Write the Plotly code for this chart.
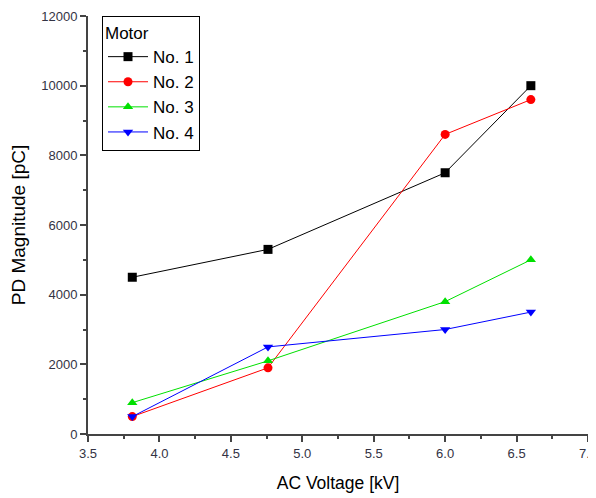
import plotly.graph_objects as go

voltage = [3.81, 4.76, 6.0, 6.6]
no1 = [4500, 5300, 7500, 10000]
no2 = [500, 1900, 8600, 9600]
no3 = [900, 2100, 3800, 5000]
no4 = [500, 2500, 3000, 3500]
names = ["No. 1", "No. 2", "No. 3", "No. 4"]
colors = ["#000000", "#ff0000", "#00e000", "#0000ff"]
symbols = ["square", "circle", "triangle-up", "triangle-down"]
x_ticks = [3.5, 4.0, 4.5, 5.0, 5.5, 6.0, 6.5, 7.0]
x_ticktext = ["3.5", "4.0", "4.5", "5.0", "5.5", "6.0", "6.5", "7.0"]
y_ticks = [0, 2000, 4000, 6000, 8000, 10000, 12000]
y_ticktext = ["0", "2000", "4000", "6000", "8000", "10000", "12000"]

fig = go.Figure()
for name, ys, c, s in zip(names, [no1, no2, no3, no4], colors, symbols):
    fig.add_trace(go.Scatter(x=voltage, y=ys, mode="lines+markers", name=name,
                             line=dict(color=c, width=1),
                             marker=dict(symbol=s, size=9, color=c)))

axis_common = dict(showline=True, linecolor="#444444", linewidth=2, ticks="outside",
                   ticklen=6, tickwidth=1.5, tickcolor="#444444", showgrid=False,
                   zeroline=False, mirror=False, automargin=False,
                   ticklabeloverflow="allow",
                   tickfont=dict(family="Liberation Sans, Arial", size=13, color="#333344"))

fig.update_layout(
    width=588, height=490,
    paper_bgcolor="white", plot_bgcolor="white",
    margin=dict(l=80, r=8, t=8, b=64),
    font=dict(family="Liberation Sans, Arial", color="#000000"),
    xaxis=dict(range=[3.5, 7.0], tickvals=x_ticks, ticktext=x_ticktext,
               minor=dict(ticks="outside", ticklen=3, tickcolor="#444444", dtick=0.25, tick0=3.5),
               title=dict(text="AC Voltage [kV]", font=dict(size=17.5), standoff=17),
               **axis_common),
    yaxis=dict(range=[0, 12000], tickvals=y_ticks, ticktext=y_ticktext,
               minor=dict(ticks="outside", ticklen=3, tickcolor="#444444", dtick=1000, tick0=0),
               title=dict(text="PD Magnitude [pC]", font=dict(size=19), standoff=24),
               **axis_common),
    legend=dict(x=0.028, y=1.0, xanchor="left", yanchor="top",
                bordercolor="#000000", borderwidth=1, bgcolor="white",
                title=dict(text="Motor", font=dict(size=17)),
                font=dict(size=17), itemwidth=40, tracegroupgap=2),
    showlegend=True,
)

fig.write_html("out.html")
